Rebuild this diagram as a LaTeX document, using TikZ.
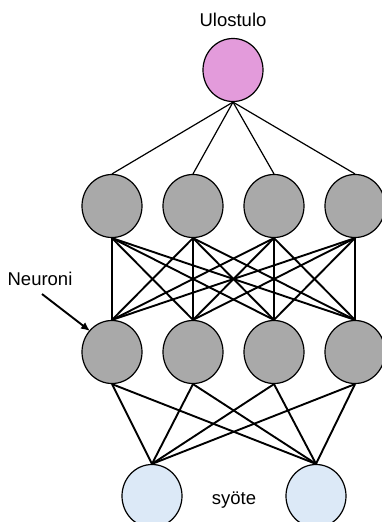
\documentclass[tikz,border=0pt]{standalone}
\usepackage{fontspec}
\setmainfont{Liberation Sans}
\usetikzlibrary{shapes.geometric, arrows.meta}
\definecolor{outpink}{HTML}{E39BDB}
\definecolor{hidgray}{HTML}{A9A9A9}
\definecolor{inblue}{HTML}{DCE9F7}
\begin{document}
\begin{tikzpicture}[x=1pt, y=-1pt,
  neuron/.style={ellipse, draw, line width=1.2pt, minimum width=60pt, minimum height=63pt, inner sep=0pt},
  label/.style={font=\fontsize{18.5}{22}\selectfont, anchor=base}]
\useasboundingbox (0,0) rectangle (382,522);
\clip (0,0) rectangle (382,522);

% output
\node[neuron, fill=outpink] (out) at (233,70) {};
\node[label] (ulos) at (233,27) {Ulostulo};

% hidden layers
\foreach \i/\x in {1/112,2/193,3/274,4/355}
	{\node[neuron, fill=hidgray] (a\i) at (\x,206) {};
	 \node[neuron, fill=hidgray] (b\i) at (\x,352) {};}

% input
\node[neuron, fill=inblue] (in1) at (152,496) {};
\node[neuron, fill=inblue] (in2) at (316,496) {};
\node[label] (syote) at (234,504) {syöte};

\foreach \i in {1,...,4}
	{\draw[line width=1.2pt] (out.south) -- (a\i.north);
	 \draw[line width=1.9pt] (b\i.south) -- (in1.north);
	 \draw[line width=1.9pt] (b\i.south) -- (in2.north);
	 \foreach \j in {1,...,4}
		{\draw[line width=1.9pt] (a\i.south) -- (b\j.north);}}

% label with arrow
\node[label] (neur) at (40,285) {Neuroni};
\coordinate (tail) at (42,294);
\coordinate (tip) at (90,331);
\draw[-{Latex[length=9pt,width=8pt]}, line width=1.9pt] (tail) -- (tip);
\end{tikzpicture}
\end{document}
